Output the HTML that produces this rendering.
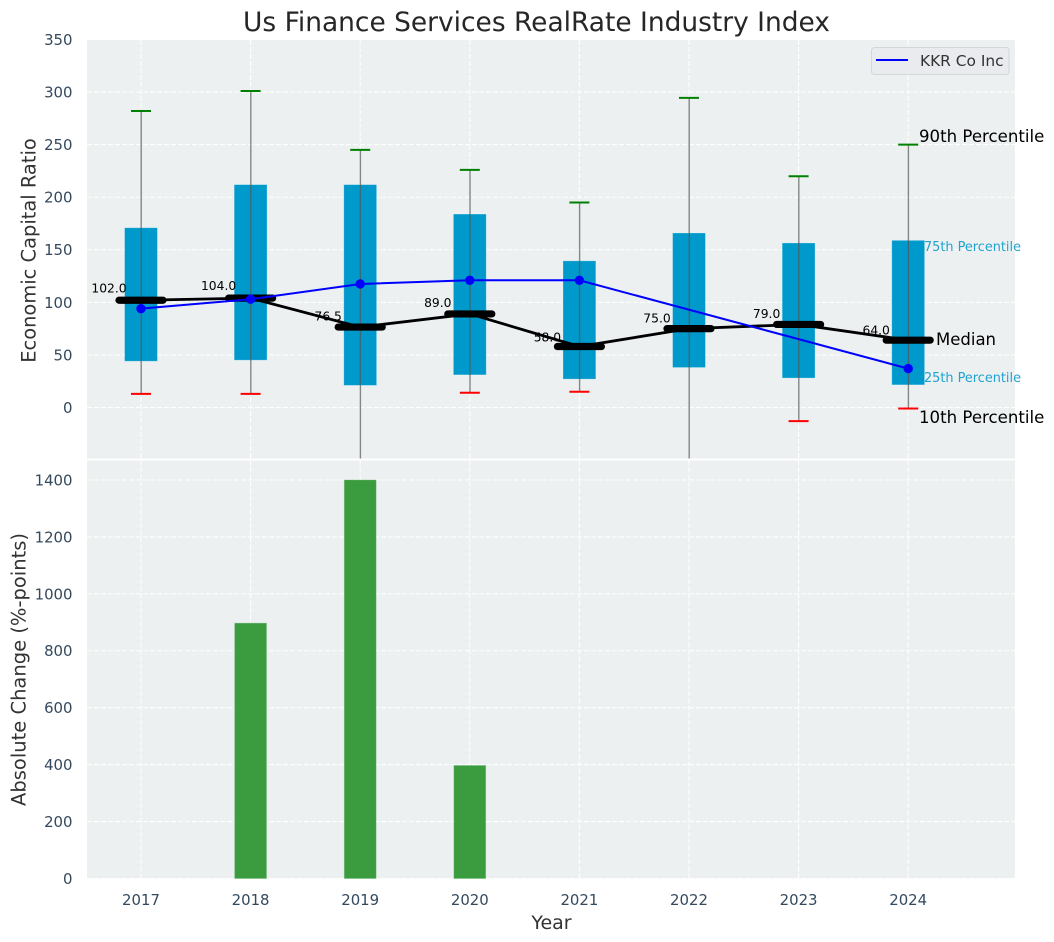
<!DOCTYPE html>
<html>
<head>
<meta charset="utf-8">
<style>
html,body{margin:0;padding:0;background:#fff;width:1054px;height:942px;overflow:hidden}
svg{display:block}
text{font-family:"DejaVu Sans","Liberation Sans",sans-serif}
</style>
</head>
<body>
<svg id="chart" xmlns="http://www.w3.org/2000/svg" width="1054" height="942" viewBox="0 0 1054 942">
  <defs>
    <clipPath id="top-clip"><rect x="87" y="40" width="928" height="418.5"/></clipPath>
  </defs>
  <rect x="87" y="40" width="928" height="418.5" fill="#ecf0f1"/>
  <rect x="87" y="460.5" width="928" height="418" fill="#ecf0f1"/>
  <g id="grid"></g>
  <g id="bars"></g>
  <g id="boxes" clip-path="url(#top-clip)"></g>
  <g id="median-labels"></g>
  <g id="medians"></g>
  <g id="company" clip-path="url(#top-clip)"></g>
  <g id="ticks"></g>

  <text x="536.5" y="31" text-anchor="middle" font-size="26.45" fill="#262626">Us Finance Services RealRate Industry Index</text>
  <text transform="translate(35.5 250.5) rotate(-90)" text-anchor="middle" font-size="19.45" fill="#333333">Economic Capital Ratio</text>
  <text transform="translate(25.5 669.5) rotate(-90)" text-anchor="middle" font-size="19.5" fill="#333333">Absolute Change (%-points)</text>
  <text x="551.5" y="929" text-anchor="middle" font-size="19" fill="#333333">Year</text>

  <text x="919" y="142" font-size="16.6" fill="#000000">90th Percentile</text>
  <text x="924" y="251" font-size="12.85" fill="#1fa3d1">75th Percentile</text>
  <text x="936" y="345" font-size="16.5" fill="#000000">Median</text>
  <text x="924" y="382" font-size="12.85" fill="#1fa3d1">25th Percentile</text>
  <text x="919" y="423" font-size="16.6" fill="#000000">10th Percentile</text>

  <g>
    <rect x="871.5" y="47.5" width="137.5" height="27" rx="3" fill="#e9ebef" stroke="#d4d6d8" stroke-width="1"/>
    <line x1="876" x2="908" y1="60" y2="60" stroke="#0000ff" stroke-width="2"/>
    <text x="920" y="66" font-size="15.4" fill="#333333">KKR Co Inc</text>
  </g>
</svg>
<script>
const years = [2017, 2018, 2019, 2020, 2021, 2022, 2023, 2024];
const p90 = [282, 301, 245, 226, 195, 294.5, 220, 250];
const p75 = [171, 212, 212, 184, 139.5, 166, 156.5, 159];
const medianValues = [102, 104, 76.5, 89, 58, 75, 79, 64];
const p25 = [44, 45, 21, 31, 27, 38, 28, 21.5];
const p10 = [13, 13, -70, 14, 15, -70, -13, -1];
const companyValues = [94, 103, 117.5, 121, 121, null, null, 37];
const changeValues = [0, 897, 1400, 397, 0, 0, 0, 0];
const topTicks = [0, 50, 100, 150, 200, 250, 300, 350];
const bottomTicks = [0, 200, 400, 600, 800, 1000, 1200, 1400];

const NS = 'http://www.w3.org/2000/svg';
const xScale = v => 141 + (v - 2017) * 109.6;
const yTop = v => 407.5 - v * 1.0514;
const yBottom = v => 878.5 - v * 0.28464;
const yearUnit = 109.6;

function mk(tag, parent) {
  const el = document.createElementNS(NS, tag);
  parent.appendChild(el);
  return el;
}
function setLine(el, x1, y1, x2, y2, color, width) {
  el.setAttribute('x1', x1);
  el.setAttribute('y1', y1);
  el.setAttribute('x2', x2);
  el.setAttribute('y2', y2);
  el.setAttribute('stroke', color);
  el.setAttribute('stroke-width', width);
}
function setRect(el, x, y, w, h, color) {
  el.setAttribute('x', x);
  el.setAttribute('y', y);
  el.setAttribute('width', w);
  el.setAttribute('height', h);
  el.setAttribute('fill', color);
}

const grid = document.getElementById('grid');
const ticks = document.getElementById('ticks');
const bars = document.getElementById('bars');
const boxes = document.getElementById('boxes');
const medianLabels = document.getElementById('median-labels');
const medians = document.getElementById('medians');
const company = document.getElementById('company');
const GRID = '#ffffff';
const DASH = '5 2';

topTicks.forEach(t => {
  const g = mk('line', grid);
  
  
  setLine(g, 87, yTop(t), 1015, yTop(t), GRID, 1);
  g.setAttribute('stroke-dasharray', DASH);
  const l = mk('text', ticks);
  
  
  l.setAttribute('x', 72.5);
  l.setAttribute('y', yTop(t) + 5.4);
  l.setAttribute('text-anchor', 'end');
  l.setAttribute('font-size', '14.9');
  l.setAttribute('fill', '#34495e');
  l.textContent = t;
});
bottomTicks.forEach(t => {
  const g = mk('line', grid);
  
  
  setLine(g, 87, yBottom(t), 1015, yBottom(t), GRID, 1);
  g.setAttribute('stroke-dasharray', DASH);
  const l = mk('text', ticks);
  
  
  l.setAttribute('x', 72.5);
  l.setAttribute('y', yBottom(t) + 5.4);
  l.setAttribute('text-anchor', 'end');
  l.setAttribute('font-size', '14.9');
  l.setAttribute('fill', '#34495e');
  l.textContent = t;
});
years.forEach(y => {
  const a = mk('line', grid);
  
  
  setLine(a, xScale(y), 40, xScale(y), 458.5, GRID, 1);
  a.setAttribute('stroke-dasharray', DASH);
  const b = mk('line', grid);
  
  
  setLine(b, xScale(y), 460.5, xScale(y), 878.5, GRID, 1);
  b.setAttribute('stroke-dasharray', DASH);
  const l = mk('text', ticks);
  
  
  l.setAttribute('x', xScale(y));
  l.setAttribute('y', 905);
  l.setAttribute('text-anchor', 'middle');
  l.setAttribute('font-size', '14.9');
  l.setAttribute('fill', '#34495e');
  l.textContent = y;
});

years.forEach((y, i) => {
  const cx = xScale(y);
  const bar = mk('rect', bars);
  
  
  setRect(bar, cx - 0.145 * yearUnit, yBottom(changeValues[i]), 0.29 * yearUnit, changeValues[i] * 0.28464, '#3b9b3f');
  bar.setAttribute('stroke', '#6fb873');
  bar.setAttribute('stroke-opacity', changeValues[i] > 0 ? '0.5' : '0');
  bar.setAttribute('stroke-width', '0.8');

  const box = mk('rect', boxes);
  
  
  setRect(box, cx - 0.15 * yearUnit, yTop(p75[i]), 0.3 * yearUnit, yTop(p25[i]) - yTop(p75[i]), '#0099cc');
  box.setAttribute('stroke', '#ffffff');
  box.setAttribute('stroke-opacity', '0.35');
  box.setAttribute('stroke-width', '0.8');

  const whisk = mk('line', boxes);
  
  
  setLine(whisk, cx + 0.2, yTop(p90[i]), cx + 0.2, yTop(p10[i]), '#555555', 1.4);
  whisk.setAttribute('stroke-opacity', '0.7');

  const capHi = mk('line', boxes);
  
  
  setLine(capHi, cx - 10, yTop(p90[i]), cx + 10, yTop(p90[i]), '#008000', 2);

  const capLo = mk('line', boxes);
  
  
  setLine(capLo, cx - 10, yTop(p10[i]), cx + 10, yTop(p10[i]), '#ff0000', 2);

  const lab = mk('text', medianLabels);
  
  
  lab.setAttribute('x', cx - 32);
  lab.setAttribute('y', yTop(medianValues[i] * 1.06) - 1.5);
  lab.setAttribute('text-anchor', 'middle');
  lab.setAttribute('font-size', '12.3');
  lab.setAttribute('fill', '#000000');
  lab.textContent = medianValues[i].toFixed(1);
});

const medianLine = mk('polyline', medians);


medianLine.setAttribute('points', years.map((y, i) => xScale(y) + ',' + yTop(medianValues[i])).join(' '));
medianLine.setAttribute('fill', 'none');
medianLine.setAttribute('stroke', '#000000');
medianLine.setAttribute('stroke-width', '2.8');

years.forEach((y, i) => {
  const m = mk('line', medians);
  
  
  setLine(m, xScale(y) - 22, yTop(medianValues[i]), xScale(y) + 22, yTop(medianValues[i]), '#000000', 7.2);
  m.setAttribute('stroke-linecap', 'round');
});

const companyLine = mk('polyline', company);


companyLine.setAttribute('points', years.map((y, i) => companyValues[i] === null ? '' : xScale(y) + ',' + yTop(companyValues[i])).join(' ').trim());
companyLine.setAttribute('fill', 'none');
companyLine.setAttribute('stroke', '#0000ff');
companyLine.setAttribute('stroke-width', '2');

years.forEach((y, i) => {
  if (companyValues[i] === null) return;
  const c = mk('circle', company);
  
  
  c.setAttribute('cx', xScale(y));
  c.setAttribute('cy', yTop(companyValues[i]));
  c.setAttribute('r', 4.7);
  c.setAttribute('fill', '#0000ff');
});
</script>
</body>
</html>
